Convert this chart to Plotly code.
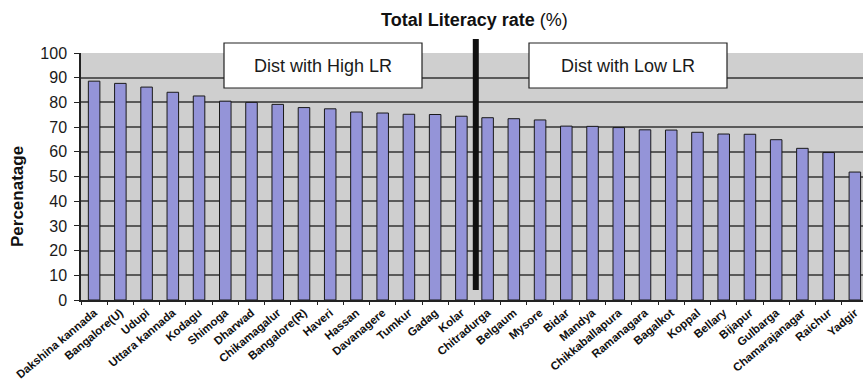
import plotly.graph_objects as go

# District-wise total literacy rate (%)
districts = [
    "Dakshina kannada", "Bangalore(U)", "Udupi", "Uttara kannada", "Kodagu",
    "Shimoga", "Dharwad", "Chikamagalur", "Bangalore(R)", "Haveri",
    "Hassan", "Davanagere", "Tumkur", "Gadag", "Kolar",
    "Chitradurga", "Belgaum", "Mysore", "Bidar", "Mandya",
    "Chikkaballapura", "Ramanagara", "Bagalkot", "Koppal", "Bellary",
    "Bijapur", "Gulbarga", "Chamarajanagar", "Raichur", "Yadgir",
]
literacy = [
    88.6, 87.7, 86.2, 84.1, 82.6,
    80.5, 80.0, 79.2, 77.9, 77.4,
    76.1, 75.7, 75.2, 75.1, 74.4,
    73.8, 73.4, 72.9, 70.4, 70.3,
    69.8, 68.9, 68.8, 67.9, 67.2,
    67.1, 64.9, 61.4, 59.7, 51.8,
]
y_ticks = list(range(0, 101, 10))
group_labels = ["Dist with High LR", "Dist with Low LR"]

W, H = 863, 386
L, R, T, B = 81, 0, 53, 86
PW, PH = W - L - R, H - T - B
FONT = "Liberation Sans, Arial"


def px_x(px):
    return (px - L) / PW


def px_y(py):
    return (H - B - py) / PH


fig = go.Figure()
fig.add_trace(go.Bar(
    x=list(range(len(districts))),
    y=literacy,
    width=0.44,
    marker=dict(color="#9494d8", line=dict(color="#1a1a1a", width=1)),
    hoverinfo="x+y",
))

# divider between high and low literacy groups
fig.add_shape(type="line", xref="x", yref="paper",
              x0=14.55, x1=14.55, y0=0.04, y1=1.057,
              line=dict(color="#111111", width=6), layer="above")

# group label boxes
boxes = [(224, 422), (529, 727)]
for (bx0, bx1), label in zip(boxes, group_labels):
    fig.add_shape(type="rect", xref="paper", yref="paper",
                  x0=px_x(bx0), x1=px_x(bx1), y0=px_y(88), y1=px_y(43),
                  fillcolor="white", line=dict(color="#222222", width=1.2),
                  layer="above")
    fig.add_annotation(xref="paper", yref="paper",
                       x=px_x((bx0 + bx1) / 2), y=px_y(65.5),
                       text=label, showarrow=False,
                       font=dict(family=FONT, size=18, color="#1a1a1a"),
                       xanchor="center", yanchor="middle")

# chart title
fig.add_annotation(xref="paper", yref="paper", x=px_x(474), y=px_y(20),
                   text="<b>Total Literacy rate</b> (%)", showarrow=False,
                   font=dict(family=FONT, size=18, color="#111111"),
                   xanchor="center", yanchor="middle")

# y-axis title
fig.add_annotation(xref="paper", yref="paper", x=px_x(17), y=px_y(197),
                   text="<b>Percenatage</b>", showarrow=False, textangle=-90,
                   font=dict(family=FONT, size=17, color="#111111"),
                   xanchor="center", yanchor="middle")

fig.update_layout(
    width=W, height=H,
    margin=dict(l=L, r=R, t=T, b=B),
    paper_bgcolor="white",
    plot_bgcolor="#cfcfcf",
    showlegend=False,
    font=dict(family=FONT, color="#111111"),
)
fig.update_xaxes(
    type="linear",
    range=[-0.5, 29.31],
    tickmode="array",
    tickvals=list(range(len(districts))),
    ticktext=districts,
    tickangle=-40,
    tickfont=dict(family=FONT, size=11.5, color="#111111", weight="bold"),
    showgrid=False, zeroline=False,
    showline=True, linecolor="#222222", linewidth=1.5,
    ticks="",
)
# boundary tick marks between categories, on an overlaid axis
fig.update_layout(xaxis2=dict(
    overlaying="x", matches="x", side="bottom",
    tickmode="array",
    tickvals=[i - 0.5 for i in range(len(districts) + 1)],
    ticktext=[""] * (len(districts) + 1),
    ticks="outside", ticklen=4, tickcolor="#222222", tickwidth=1,
    showgrid=False, zeroline=False, showline=False,
))
fig.add_trace(go.Scatter(x=[0], y=[0], xaxis="x2", mode="markers",
                         marker=dict(opacity=0), hoverinfo="skip"))
fig.update_yaxes(
    range=[0, 100],
    tickmode="array", tickvals=y_ticks,
    tickfont=dict(family=FONT, size=16, color="#1a1a1a"),
    ticks="outside", ticklen=5, tickcolor="#222222",
    ticklabelstandoff=4,
    showgrid=True, gridcolor="#5a5a5a", gridwidth=1.6,
    zeroline=False,
    showline=True, linecolor="#222222", linewidth=1.5,
)

fig.write_html("out.html")
